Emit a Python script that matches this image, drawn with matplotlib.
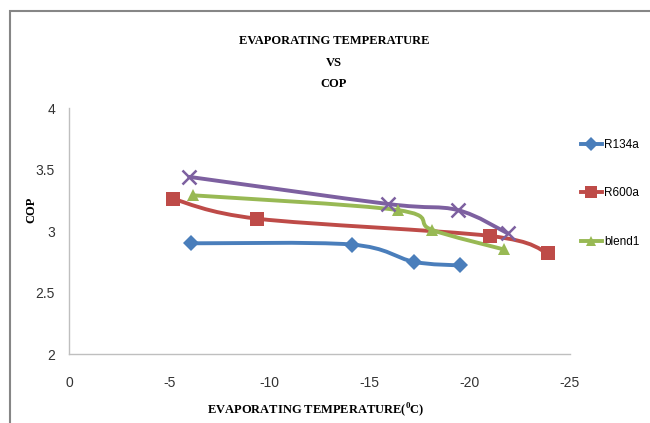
import matplotlib
matplotlib.use('Agg')
import matplotlib.pyplot as plt
import numpy as np
from matplotlib.path import Path
from matplotlib.patches import PathPatch, Rectangle
from matplotlib.lines import Line2D

plt.rcParams['axes.unicode_minus'] = False
plt.rcParams['mathtext.fontset'] = 'custom'
plt.rcParams['mathtext.bf'] = 'Liberation Serif:bold'
plt.rcParams['mathtext.rm'] = 'Liberation Serif:bold'

# data
series_names = ['R134a', 'R600a', 'blend1', 'blend2']
temp_r134a = [-6.1, -14.1, -17.2, -19.5]
cop_r134a = [2.90, 2.89, 2.75, 2.72]
temp_r600a = [-5.2, -9.4, -21.0, -23.9]
cop_r600a = [3.26, 3.10, 2.96, 2.82]
temp_blend1 = [-6.2, -16.4, -18.1, -21.7]
cop_blend1 = [3.29, 3.17, 3.01, 2.85]
temp_blend2 = [-6.0, -15.9, -19.4, -21.9]
cop_blend2 = [3.44, 3.22, 3.17, 2.98]

x_ticks = [0, -5, -10, -15, -20, -25]
y_ticks = [2, 2.5, 3, 3.5, 4]

colors = ['#4A7EBB', '#BE4B48', '#98B954', '#7D60A0']
markers = ['D', 's', '^', 'x']
msizes = [8, 10, 9, 10]
tick_font = ['Liberation Sans', 'DejaVu Sans']


def smooth_path(xs, ys):
    # excel style smoothed line: bezier with catmull-rom control points
    p = np.column_stack([xs, ys])
    n = len(p)
    verts = [p[0]]
    codes = [Path.MOVETO]
    for i in range(n - 1):
        p0 = p[i - 1] if i > 0 else p[i]
        p3 = p[i + 2] if i + 2 < n else p[i + 1]
        c1 = p[i] + (p[i + 1] - p0) / 6.0
        c2 = p[i + 1] - (p3 - p[i]) / 6.0
        verts += [c1, c2, p[i + 1]]
        codes += [Path.CURVE4] * 3
    return Path(verts, codes)


fig = plt.figure(figsize=(6.5, 4.23), dpi=100)
# outer chart border (cropped at right/bottom)
fig.patches.append(Rectangle((10 / 650, -0.1), 1.1, 1 - 11 / 423 + 0.1,
                             transform=fig.transFigure, fill=False,
                             edgecolor='#868686', linewidth=1.5))

ax = fig.add_axes([69 / 650, 69 / 423, 501 / 650, 246 / 423])
ax.set_xlim(0, -25)
ax.set_ylim(2, 4)
ax.set_xticks(x_ticks)
ax.set_yticks(y_ticks)
ax.set_xticklabels([str(t) for t in x_ticks])
ax.set_yticklabels(['2', '2.5', '3', '3.5', '4'])
for s in ['top', 'right']:
    ax.spines[s].set_visible(False)
for s in ['left', 'bottom']:
    ax.spines[s].set_color('#BFBFBF')
    ax.spines[s].set_linewidth(1.0)
ax.tick_params(length=0, labelsize=10, colors='#333333')
ax.tick_params(axis='x', pad=16)
ax.tick_params(axis='y', pad=10)
for lab in ax.get_xticklabels() + ax.get_yticklabels():
    lab.set_family(tick_font)

data = [(temp_r134a, cop_r134a), (temp_r600a, cop_r600a),
        (temp_blend1, cop_blend1), (temp_blend2, cop_blend2)]
handles = []
for (xs, ys), c, m, ms, name in zip(data, colors, markers, msizes, series_names):
    ax.add_patch(PathPatch(smooth_path(xs, ys), facecolor='none',
                           edgecolor=c, linewidth=2.8, capstyle='round'))
    mew = 1.8 if m == 'x' else 0
    ax.plot(xs, ys, linestyle='none', marker=m, markersize=ms, color=c,
            markeredgewidth=mew, zorder=3)
    handles.append(Line2D([], [], color=c, marker=m, markersize=ms * 0.85,
                          linewidth=2.8, markeredgewidth=mew, label=name))

leg = fig.legend(handles=handles[:3], loc='upper left',
                 bbox_to_anchor=(581 / 650, 1 - 139 / 423), frameon=False,
                 handlelength=1.75, handletextpad=0.2, labelspacing=3.08,
                 borderaxespad=0, borderpad=0,
                 prop={'family': tick_font, 'size': 8.5})

fig.text(334 / 650, 1 - 41 / 423, 'EVAPORATING TEMPERATURE', ha='center', va='center',
         family='Liberation Serif', weight='bold', size=9)
fig.text(334 / 650, 1 - 63 / 423, 'VS', ha='center', va='center',
         family='Liberation Serif', weight='bold', size=9)
fig.text(334 / 650, 1 - 84 / 423, 'COP', ha='center', va='center',
         family='Liberation Serif', weight='bold', size=9)
fig.text(31 / 650, 1 - 210 / 423, 'COP', ha='center', va='center', rotation=90,
         family='Liberation Serif', weight='bold', size=9)
fig.text(316 / 650, 1 - 410 / 423, r'EVAPORATING TEMPERATURE($^{\mathbf{0}}$C)',
         ha='center', va='center', family='Liberation Serif', weight='bold', size=9)

fig.savefig('out.png', dpi=100)
